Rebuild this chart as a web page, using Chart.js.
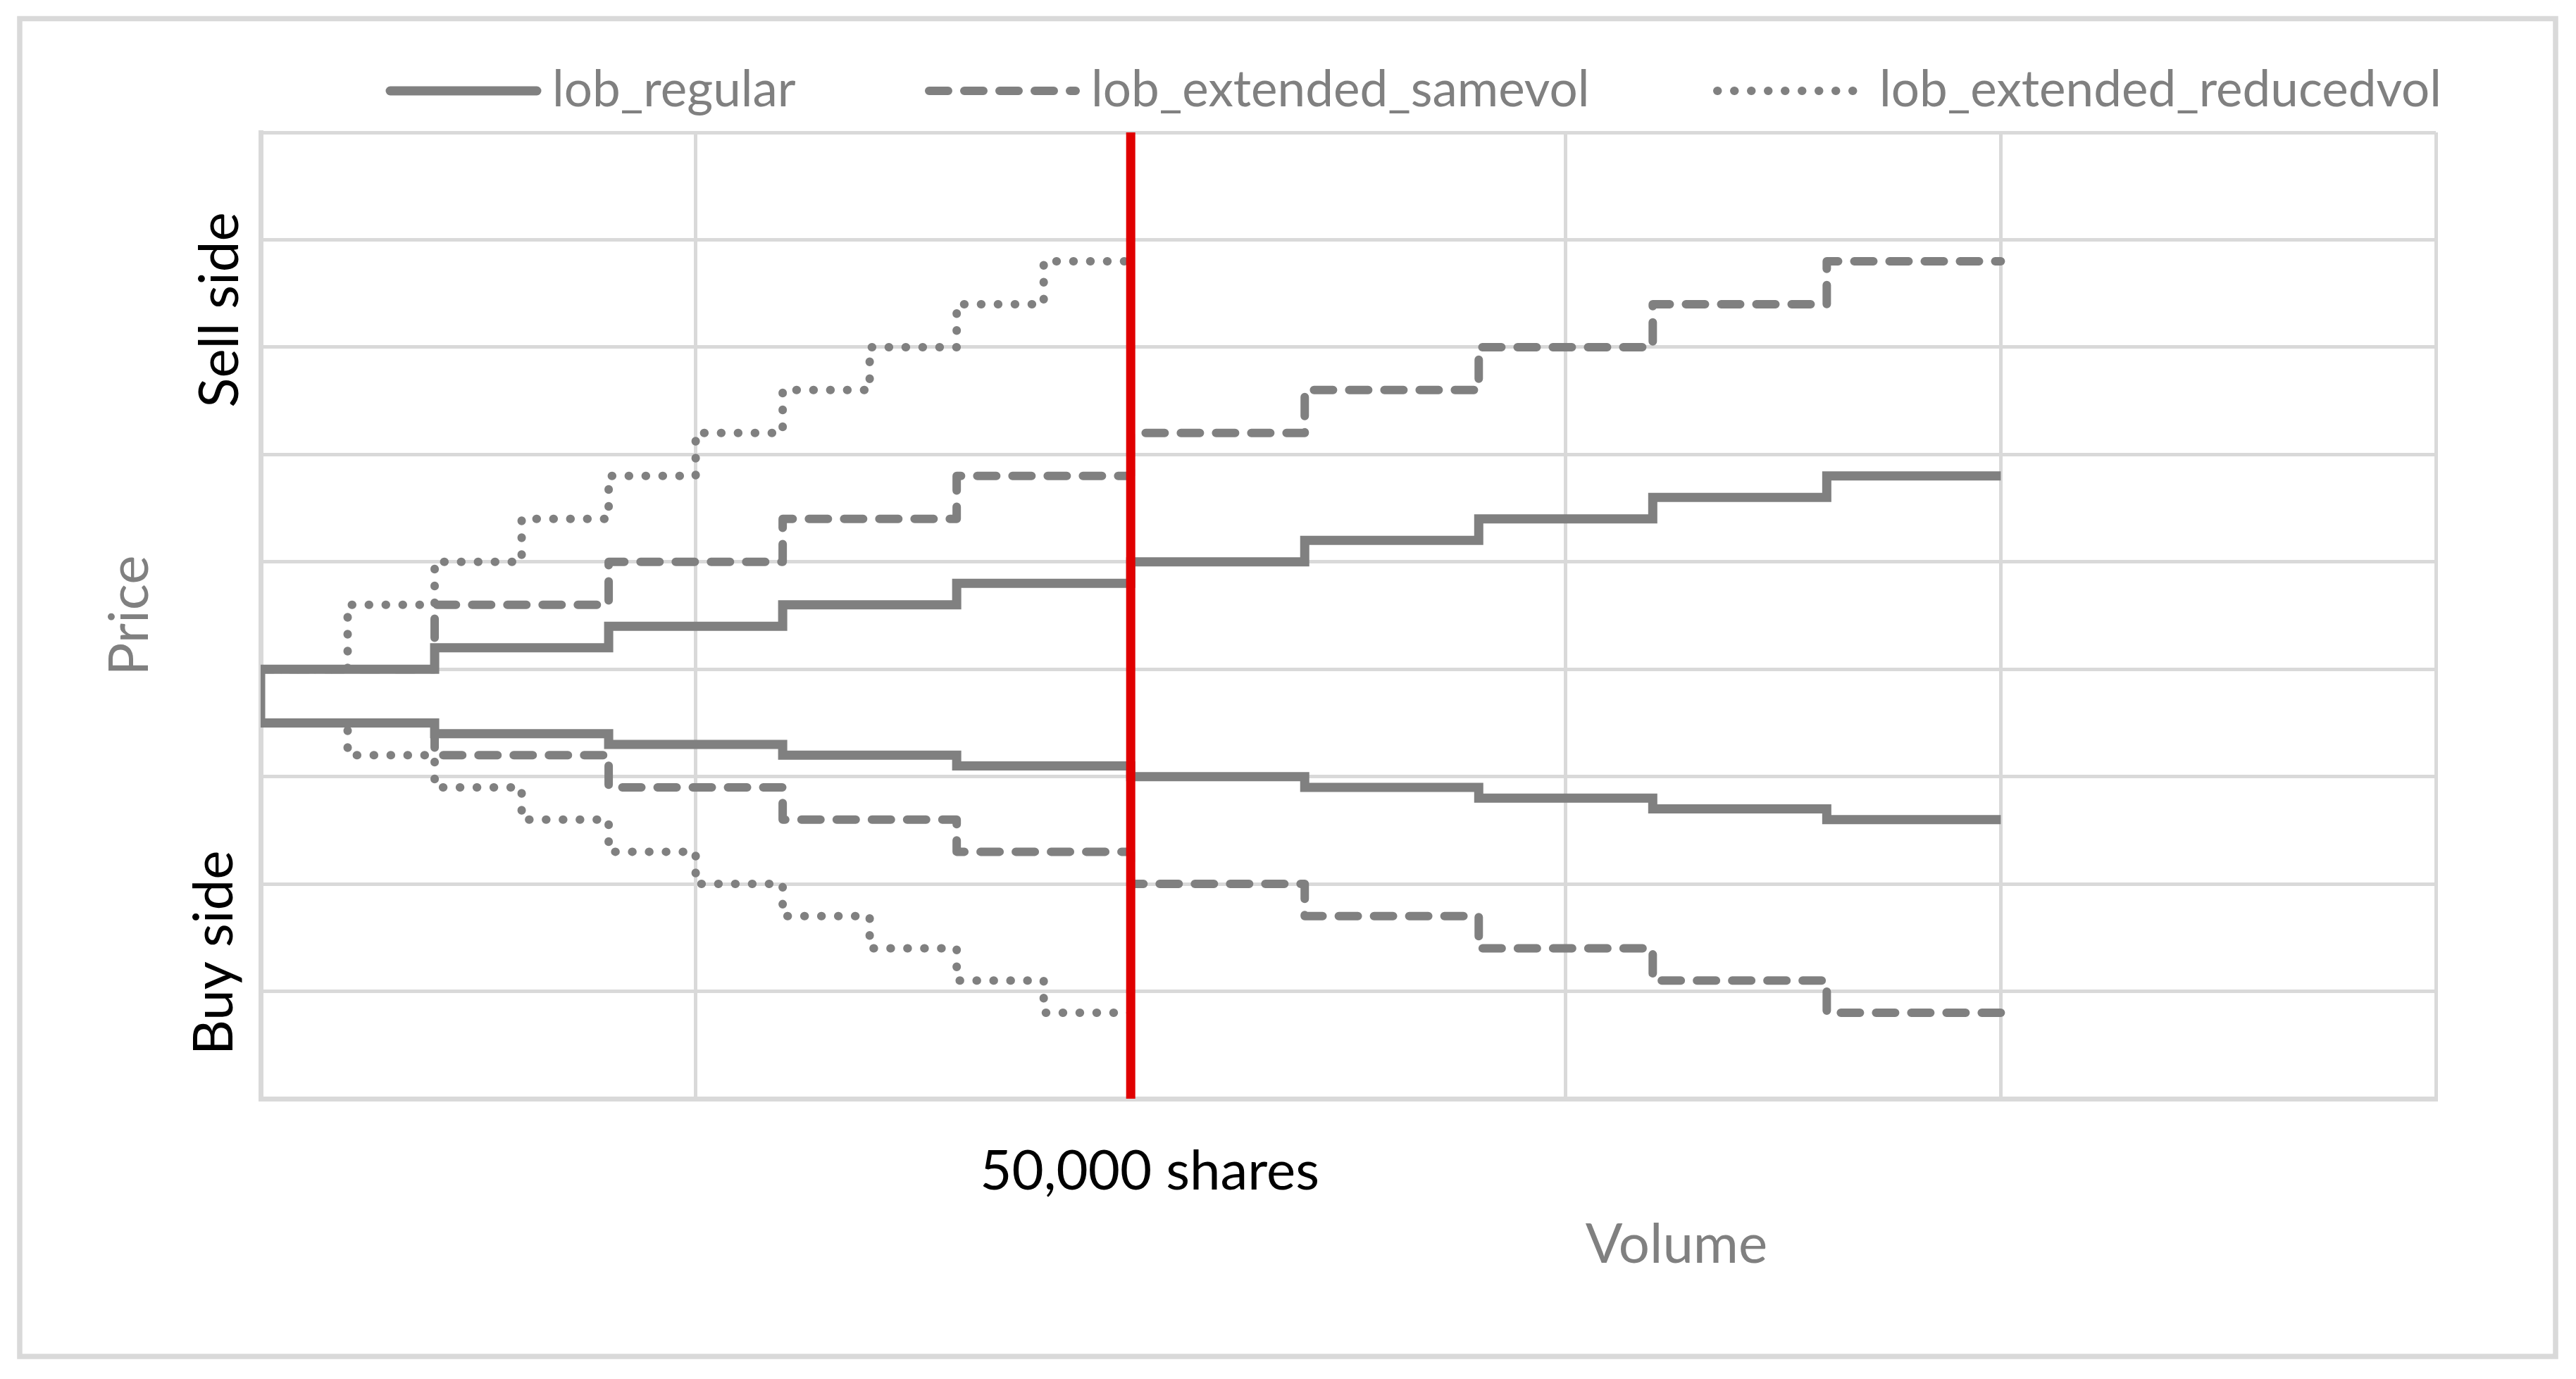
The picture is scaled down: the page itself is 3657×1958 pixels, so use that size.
<!DOCTYPE html>
<html>
<head>
<meta charset="utf-8">
<script src="https://cdn.jsdelivr.net/npm/chart.js@4.4.1/dist/chart.umd.min.js"></script>
<style>
  html, body { margin: 0; padding: 0; background: #fff; }
  #wrap { width: 3657px; height: 1958px; }
</style>
</head>
<body>
<div id="wrap"><canvas id="book" width="3657" height="1958"></canvas></div>
<script>
const GREY = '#808080';
const GRID = '#d9d9d9';
const RED = '#e00000';
const FONT = "Lato, 'Liberation Sans', sans-serif";

// volume boundaries of each book level (shares)
const volumeSteps = [0, 10000, 20000, 30000, 40000, 50000, 60000, 70000, 80000, 90000, 100000];
const volumeStepsReduced = [0, 5000, 10000, 15000, 20000, 25000, 30000, 35000, 40000, 45000, 50000];

// price of each level, best price first
const regularSell = [4.0, 4.2, 4.4, 4.6, 4.8, 5.0, 5.2, 5.4, 5.6, 5.8];
const regularBuy = [3.5, 3.4, 3.3, 3.2, 3.1, 3.0, 2.9, 2.8, 2.7, 2.6];
const extendedSell = [4.0, 4.6, 5.0, 5.4, 5.8, 6.2, 6.6, 7.0, 7.4, 7.8];
const extendedBuy = [3.5, 3.2, 2.9, 2.6, 2.3, 2.0, 1.7, 1.4, 1.1, 0.8];

const seriesNames = ['lob_regular', 'lob_extended_samevol', 'lob_extended_reducedvol'];
const markerVolume = 50000;
const volumeAxis = [0, 125000, 25000];   // min, max, step
const priceAxis = [0, 9, 1];

// one path per book: buy side from the far end in to 0, then sell side back out
function bookPath(vols, buy, sell) {
  const pts = [];
  for (let i = buy.length - 1; i >= 0; i--) {
    pts.push({ x: vols[i + 1], y: buy[i] }, { x: vols[i], y: buy[i] });
  }
  sell.forEach((p, i) => pts.push({ x: vols[i], y: p }, { x: vols[i + 1], y: p }));
  return pts;
}

function rotatedText(ctx, text, x, y) {
  ctx.save();
  ctx.translate(x, y);
  ctx.rotate(-Math.PI / 2);
  ctx.textAlign = 'center';
  ctx.fillText(text, 0, 0);
  ctx.restore();
}

const annotate = {
  id: 'annotate',
  beforeDraw(chart) {
    const { ctx, width, height } = chart;
    ctx.save();
    ctx.fillStyle = '#fff';
    ctx.fillRect(0, 0, width, height);
    ctx.strokeStyle = GRID;
    ctx.lineWidth = 7.5;
    ctx.strokeRect(28, 26.5, 3600, 1899.5);
    ctx.restore();
  },
  afterDraw(chart) {
    const { ctx, scales: { x, y } } = chart;
    ctx.save();

    // legend
    const starts = [548, 1313, 2432];
    chart.data.datasets.slice(0, 3).forEach((ds, i) => {
      const x0 = starts[i];
      ctx.strokeStyle = ds.borderColor;
      ctx.lineWidth = ds.borderWidth;
      ctx.lineCap = 'round';
      ctx.setLineDash(ds.borderDash || []);
      ctx.beginPath();
      ctx.moveTo(x0 + 6, 129);
      ctx.lineTo(x0 + 214, 129);
      ctx.stroke();
      ctx.setLineDash([]);
      ctx.fillStyle = GREY;
      ctx.font = `71px ${FONT}`;
      ctx.textAlign = 'left';
      ctx.fillText(ds.label, x0 + 236, 151);
    });

    ctx.font = `78px ${FONT}`;
    ctx.fillStyle = '#000';
    rotatedText(ctx, 'Sell side', 338, 440);
    rotatedText(ctx, 'Buy side', 330, 1353);
    ctx.textAlign = 'center';
    ctx.fillText('50,000 shares', x.getPixelForValue(markerVolume) + 27, 1689);

    ctx.fillStyle = GREY;
    rotatedText(ctx, 'Price', 210, y.getPixelForValue((priceAxis[0] + priceAxis[1]) / 2));
    ctx.textAlign = 'center';
    ctx.fillText('Volume', 2380, 1793);
    ctx.restore();
  }
};

const axisStyle = {
  grid: { color: GRID, lineWidth: 5, drawTicks: false },
  border: { color: GRID, width: 7 },
};

new Chart(document.getElementById('book'), {
  type: 'scatter',
  data: {
    datasets: [
      {
        label: seriesNames[0],
        data: bookPath(volumeSteps, regularBuy, regularSell),
        borderColor: GREY,
        borderWidth: 13,
        borderCapStyle: 'butt',
        borderJoinStyle: 'miter',
        order: 1,
      },
      {
        label: seriesNames[1],
        data: bookPath(volumeSteps, extendedBuy, extendedSell),
        borderColor: GREY,
        borderWidth: 12,
        borderDash: [27, 23],
        borderCapStyle: 'round',
        borderJoinStyle: 'round',
        order: 2,
      },
      {
        label: seriesNames[2],
        data: bookPath(volumeStepsReduced, extendedBuy, extendedSell),
        borderColor: GREY,
        borderWidth: 12,
        borderDash: [0.5, 23.5],
        borderCapStyle: 'round',
        borderJoinStyle: 'round',
        order: 3,
      },
      {
        label: 'marker',
        data: [{ x: markerVolume, y: priceAxis[0] }, { x: markerVolume, y: priceAxis[1] }],
        borderColor: RED,
        borderWidth: 13,
        borderCapStyle: 'butt',
        order: 0,
      },
    ],
  },
  options: {
    responsive: false,
    animation: false,
    devicePixelRatio: 1,
    showLine: true,
    clip: 0,
    layout: { padding: { left: 370, right: 199, top: 188, bottom: 398 } },
    elements: { point: { radius: 0 }, line: { tension: 0, fill: false } },
    plugins: { legend: { display: false }, tooltip: { enabled: false } },
    scales: {
      x: {
        type: 'linear', min: volumeAxis[0], max: volumeAxis[1],
        ticks: { stepSize: volumeAxis[2], display: false },
        ...axisStyle,
      },
      y: {
        type: 'linear', min: priceAxis[0], max: priceAxis[1],
        ticks: { stepSize: priceAxis[2], display: false },
        ...axisStyle,
      },
    },
  },
  plugins: [annotate],
});
</script>
</body>
</html>
